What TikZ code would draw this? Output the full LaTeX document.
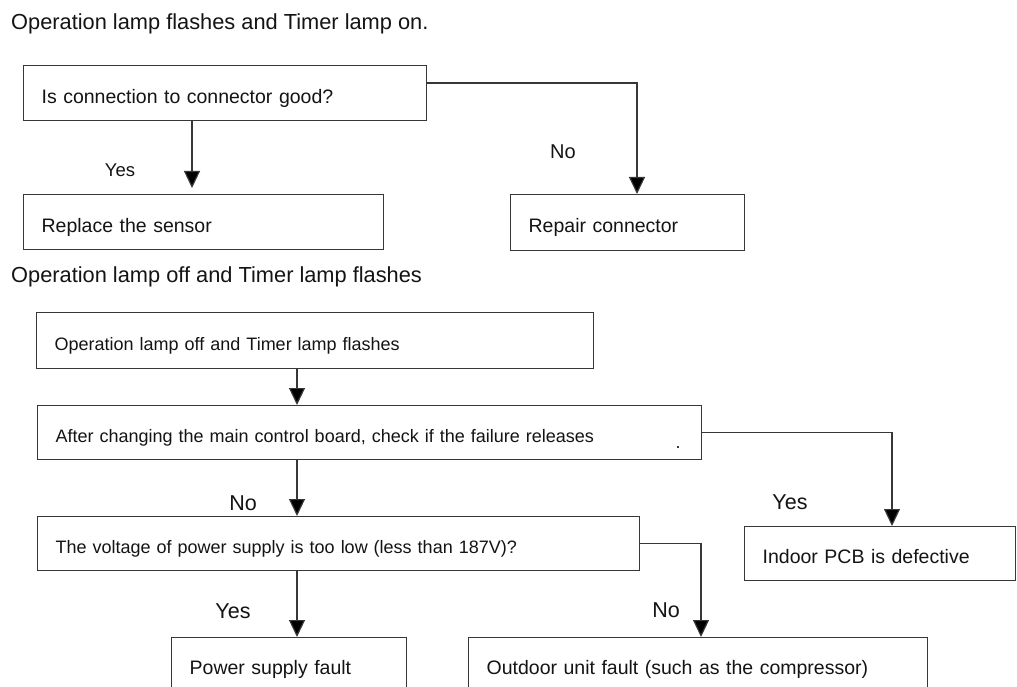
\documentclass[tikz,border=0pt]{standalone}
\usepackage{fontspec}
\setmainfont{Liberation Sans}
\usepackage{tikz}
\usetikzlibrary{arrows.meta}
\definecolor{fcline}{RGB}{55, 55, 55}
\definecolor{fctext}{RGB}{20, 20, 20}

\begin{document}
\begin{tikzpicture}[x=1pt, y=-1pt,
    caja/.style={draw=fcline, line width=1.3pt, anchor=north west, align=left,
      inner xsep=18pt, inner ysep=0pt, text height=20pt, text depth=0pt,
      text=fctext, font=\fontsize{19.5}{23}\selectfont},
    cajachica/.style={caja, font=\fontsize{18}{22}\selectfont},
    flecha/.style={-{Triangle[width=16pt, length=17pt, fill=black]}, draw=fcline, line width=1.2pt},
    rotulo/.style={anchor=base, inner sep=0pt, text=fctext, font=\fontsize{21.5}{26}\selectfont},
    titulo/.style={anchor=base west, inner sep=0pt, text=fctext, font=\fontsize{21.8}{26}\selectfont}]
    % Marco de la imagen
    \useasboundingbox (0,0) rectangle (1017,687);
    \clip (0,0) rectangle (1017,687);
    \fill[white] (0,0) rectangle (1017,687);

    % Primer caso
    \node[titulo] (t1) at (11,30) {Operation lamp flashes and Timer lamp on.};
    \node[caja, text width=367pt, minimum height=55pt] (b1) at (23,65) {Is connection to connector good?};
    \node[caja, text width=324pt, minimum height=55pt] (b2) at (23,194) {Replace the sensor};
    \node[caja, text width=198pt, minimum height=56pt] (rep) at (510,194) {Repair connector};

    % Flechas del primer caso
    \draw[flecha, shorten >=6pt] ([xshift=169pt]b1.south west) -- ([xshift=169pt]b2.north west);
    \draw[flecha] ([yshift=-18pt]b1.north east) -| ([xshift=127pt]rep.north west);
    \node[rotulo, font=\fontsize{18.5}{22}\selectfont] (si1) at (120,177) {Yes};
    \node[rotulo, font=\fontsize{20}{24}\selectfont] (no1) at (563,159) {No};

    % Segundo caso
    \node[titulo] (t2) at (11,282) {Operation lamp off and Timer lamp flashes};
    \node[cajachica, text width=521pt, minimum height=56pt] (b3) at (36,312) {Operation lamp off and Timer lamp flashes};
    \node[cajachica, text width=628pt, minimum height=54pt] (b4) at (37,405) {After changing the main control board, check if the failure releases};
    \node[rotulo, font=\fontsize{18}{22}\selectfont] (punto) at (678,448) {.};
    \node[cajachica, text width=566pt, minimum height=54pt] (b5) at (37,516) {The voltage of power supply is too low (less than 187V)?};
    \node[caja, text width=235pt, minimum height=54pt] (b8) at (744,526) {Indoor PCB is defective};
    \node[caja, text width=199pt, minimum height=54pt] (b6) at (171,637) {Power supply fault};
    \node[caja, text width=423pt, minimum height=54pt] (b7) at (468,637) {Outdoor unit fault (such as the compressor)};

    % Columnas de las flechas
    \coordinate (c1) at (297,0);
    \coordinate (c2) at (892,0);
    \coordinate (c3) at (701,0);

    % Flechas del segundo caso
    \draw[flecha] (b3.south -| c1) -- (b4.north -| c1);
    \draw[flecha] (b4.south -| c1) -- (b5.north -| c1);
    \draw[flecha] (b4.east) -| (b8.north -| c2);
    \draw[flecha] (b5.south -| c1) -- (b6.north -| c1);
    \draw[flecha] (b5.east) -| (b7.north -| c3);
    \node[rotulo] (no2) at (243,510) {No};
    \node[rotulo] (si2) at (790,509) {Yes};
    \node[rotulo] (si3) at (233,618) {Yes};
    \node[rotulo] (no3) at (666,617) {No};
\end{tikzpicture}
\end{document}
